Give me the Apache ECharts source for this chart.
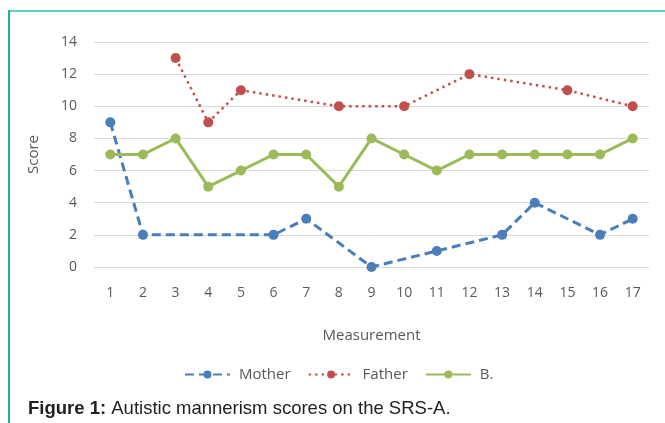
<!DOCTYPE html>
<html>
<head>
<meta charset="utf-8">
<script src="https://cdn.jsdelivr.net/npm/echarts@6/dist/echarts.min.js"></script>
<style>
html,body{margin:0;padding:0;background:#fff;}
#main{width:665px;height:423px;}
</style>
</head>
<body>
<div id="main"></div>
<script>
const categories = ['1','2','3','4','5','6','7','8','9','10','11','12','13','14','15','16','17'];
const mother = [9, 2, null, null, null, 2, 3, null, 0, null, 1, null, 2, 4, null, 2, 3];
const father = [null, null, 13, 9, 11, null, null, 10, null, 10, null, 12, null, null, 11, null, 10];
const childB = [7, 7, 8, 5, 6, 7, 7, 5, 8, 7, 6, 7, 7, 7, 7, 7, 8];
const yTicks = { min: 0, max: 14, interval: 2 };

const chart = echarts.init(document.getElementById('main'), null, {renderer: 'canvas'});
const axisFont = '"Open Sans", "Noto Sans", sans-serif';
chart.setOption({
  animation: false,
  backgroundColor: '#ffffff',
  grid: { left: 94, right: 16, top: 42, bottom: 156, containLabel: false },
  xAxis: {
    type: 'category',
    data: categories,
    boundaryGap: true,
    name: 'Measurement',
    nameLocation: 'middle',
    nameGap: 61,
    nameTextStyle: { color: '#595959', fontSize: 15, fontFamily: axisFont },
    axisLine: { show: false },
    axisTick: { show: false },
    axisLabel: { color: '#595959', fontSize: 14, fontFamily: axisFont, margin: 19 }
  },
  yAxis: {
    type: 'value',
    min: yTicks.min, max: yTicks.max, interval: yTicks.interval,
    name: 'Score',
    nameLocation: 'middle',
    nameGap: 53,
    nameRotate: 90,
    nameTextStyle: { color: '#595959', fontSize: 15, fontFamily: axisFont },
    axisLine: { show: false },
    axisTick: { show: false },
    axisLabel: { color: '#595959', fontSize: 14, fontFamily: axisFont, margin: 17 },
    splitLine: { lineStyle: { color: '#d9d9d9', width: 1 } }
  },
  legend: {
    top: 362,
    left: 179,
    itemWidth: 45,
    itemHeight: 10,
    itemGap: 17,
    textStyle: { color: '#595959', fontSize: 15, fontFamily: axisFont, padding: [0, 0, 0, 4] },
    data: ['Mother', 'Father', 'B.']
  },
  series: [
    {
      name: 'Mother', type: 'line', data: mother, connectNulls: true,
      symbol: 'circle', symbolSize: 10,
      itemStyle: { color: '#4A7EBB' },
      lineStyle: { color: '#4A7EBB', width: 3, type: [9, 5] }
    },
    {
      name: 'Father', type: 'line', data: father, connectNulls: true,
      symbol: 'circle', symbolSize: 10,
      itemStyle: { color: '#C0504D' },
      lineStyle: { color: '#C0504D', width: 2.5, type: [2.5, 4] }
    },
    {
      name: 'B.', type: 'line', data: childB, connectNulls: true,
      symbol: 'circle', symbolSize: 10,
      itemStyle: { color: '#9BBB59' },
      lineStyle: { color: '#9BBB59', width: 3, type: 'solid' }
    }
  ],
  graphic: [
    { type: 'line', shape: { x1: 9, y1: 11, x2: 665, y2: 11 }, style: { stroke: '#5ED3C3', lineWidth: 2 } },
    { type: 'line', shape: { x1: 9, y1: 10, x2: 9, y2: 423 }, style: { stroke: '#1FAE9C', lineWidth: 2 } },
    {
      type: 'text', left: 28, top: 399,
      style: {
        text: '{b|Figure 1:} Autistic mannerism scores on the SRS-A.',
        rich: {
          b: { fontWeight: 'bold', fontSize: 18.5, fontFamily: '"Liberation Sans", Arial, sans-serif', fill: '#222' }
        },
        fontSize: 18.5, fontFamily: '"Liberation Sans", Arial, sans-serif', fill: '#222'
      }
    }
  ]
});
</script>
</body>
</html>
